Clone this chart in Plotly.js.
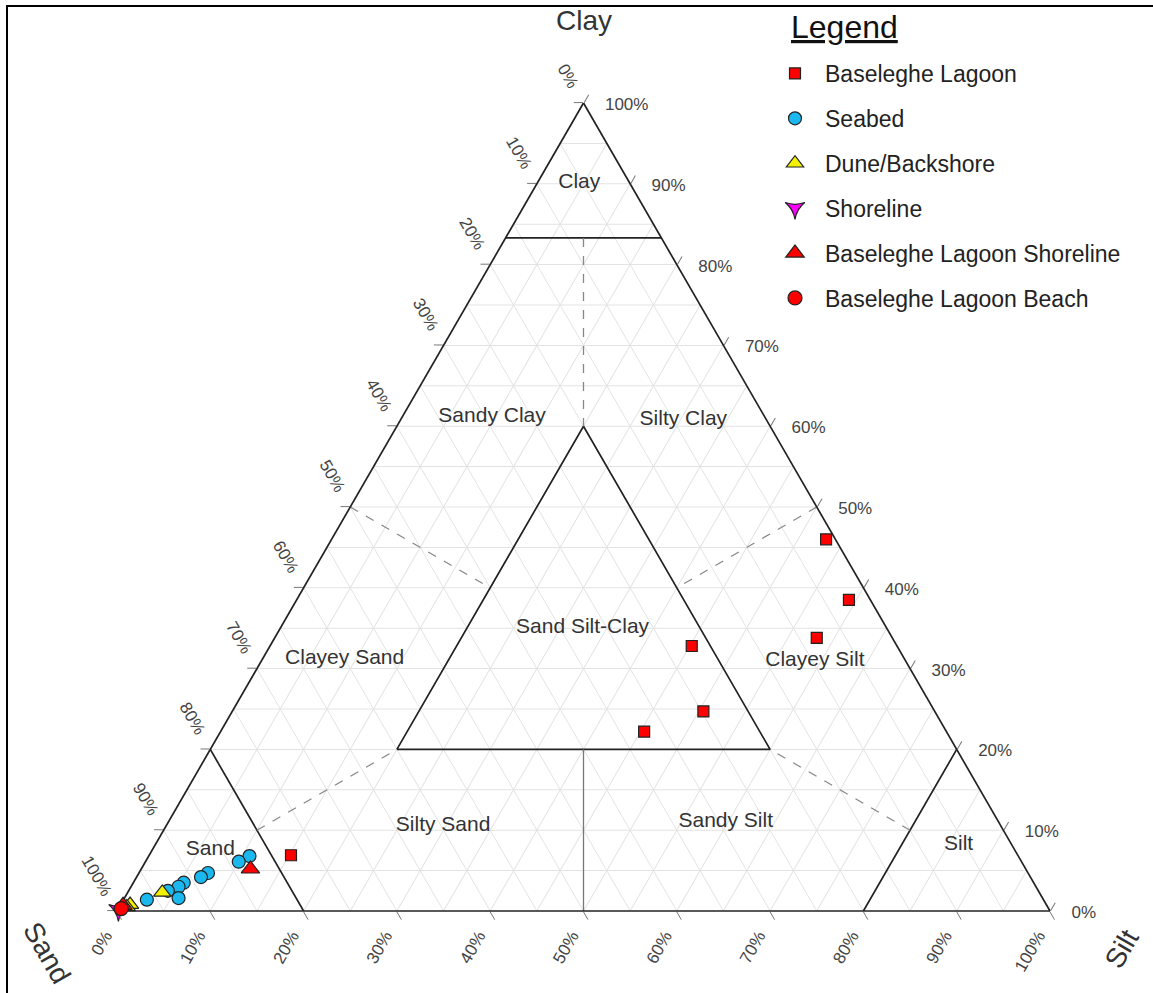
<!DOCTYPE html>
<html><head><meta charset="utf-8">
<script src="https://cdn.plot.ly/plotly-3.0.1.min.js"></script>
<style>
html,body{margin:0;padding:0;background:#fff;overflow:hidden}
#chart{position:absolute;left:0;top:0;width:1153px;height:993px}
#frame{position:absolute;left:6px;top:5px;width:1300px;height:1100px;border-top:2px solid #000;border-left:2px solid #000;pointer-events:none}
</style></head><body>
<div id="chart"></div><div id="frame"></div>
<script>
// ---- sample data (percent) ----
const lagoonSand = [1.0, 2.3, 8.1, 22.0, 24.8, 32.4, 77.9];
const lagoonSilt = [53.0, 59.2, 58.1, 45.2, 50.5, 45.4, 15.2];
const lagoonClay = [46.0, 38.5, 33.8, 32.8, 24.7, 22.2, 6.9];

const seabedSand = [82.4, 83.9, 87.9, 88.9, 91.1, 91.9, 93.3, 92.6, 96.1];
const seabedSilt = [10.8, 10.0, 7.4, 6.9, 5.4, 5.1, 4.2, 5.8, 2.5];
const seabedClay = [6.8, 6.1, 4.7, 4.2, 3.5, 3.0, 2.5, 1.6, 1.4];

const duneSand = [94.0, 98.2, 98.7];
const duneSilt = [3.7, 1.0, 0.8];
const duneClay = [2.3, 0.8, 0.5];

const shoreSand = [99.8];
const shoreSilt = [0.1];
const shoreClay = [0.1];

const lagShoreSand = [83.1, 99.0];
const lagShoreSilt = [11.7, 0.3];
const lagShoreClay = [5.2, 0.7];

const lagBeachSand = [99.4];
const lagBeachSilt = [0.3];
const lagBeachClay = [0.3];

// ---- classification boundaries (Sand, Silt, Clay) ----
const solidBoundaries = [
  {sand:[16.7, 0], silt:[0, 16.7], clay:[83.3, 83.3]},
  {sand:[60, 20, 20, 60], silt:[20, 60, 20, 20], clay:[20, 20, 60, 20]},
  {sand:[80, 80], silt:[0, 20], clay:[20, 0]},
  {sand:[20, 0], silt:[80, 80], clay:[0, 20]}
];
const dashedBoundaries = [
  {sand:[8.35, 20], silt:[8.35, 20], clay:[83.3, 60]},
  {sand:[50, 40], silt:[0, 20], clay:[50, 40]},
  {sand:[0, 20], silt:[50, 40], clay:[50, 40]},
  {sand:[80, 60], silt:[10, 20], clay:[10, 20]},
  {sand:[10, 20], silt:[80, 60], clay:[10, 20]}
];
const greyBoundaries = [
  {sand:[40, 50], silt:[40, 50], clay:[20, 0]}
];

// ---- region labels ----
const regionNames = ['Clay','Sandy Clay','Silty Clay','Sand Silt-Clay','Clayey Sand','Clayey Silt','Silty Sand','Sandy Silt','Sand','Silt'];
const regionSand = [5.4, 29.2, 8.9, 32.6, 60.0, 9.7, 59.8, 29.2, 86.2, 5.7];
const regionSilt = [4.5, 9.6, 30.3, 32.4, 8.8, 59.3, 29.7, 59.7, 6.2, 86.1];
const regionClay = [90.1, 61.2, 60.8, 35.0, 31.2, 31.0, 10.5, 11.1, 7.6, 8.2];

// ---- ticks ----
const tickValues = [0, 10, 20, 30, 40, 50, 60, 70, 80, 90, 100];
const tickLabels = ['100%','90%','80%','70%','60%','50%','40%','30%','20%','10%','0%'];

const fontFam = '"Liberation Sans", Arial, Helvetica, sans-serif';
const traces = [];

function addBoundary(list, color, width, dash) {
  list.forEach(seg => traces.push({
    type:'scatterternary', subplot:'ternary', mode:'lines',
    a: seg.clay, b: seg.sand, c: seg.silt,
    line:{color:color, width:width, dash:dash},
    hoverinfo:'skip', showlegend:false
  }));
}
addBoundary(solidBoundaries, '#222', 1.7, 'solid');
addBoundary(dashedBoundaries, '#888', 1.3, 'dash');
addBoundary(greyBoundaries, '#777', 1.3, 'solid');

traces.push({
  type:'scatterternary', subplot:'ternary', mode:'text',
  a: regionClay, b: regionSand, c: regionSilt, text: regionNames,
  textposition:'middle center',
  textfont:{family:fontFam, size:21, color:'#333'},
  hoverinfo:'skip', showlegend:false, cliponaxis:false
});

function addSeries(name, sand, silt, clay, symbol, color, size, grp) {
  traces.push({
    type:'scatterternary', subplot:'ternary2', mode:'markers', name:name,
    a: clay, b: sand, c: silt, legendgroup: grp,
    marker:{symbol:symbol, color:color, size:size, line:{color:'#222', width:1.2}},
    cliponaxis:false
  });
}
addSeries('Baseleghe Lagoon', lagoonSand, lagoonSilt, lagoonClay, 'square', '#ff0000', 11, 'g1');
addSeries('Seabed', seabedSand, seabedSilt, seabedClay, 'circle', '#1bb8f0', 13, 'g2');
addSeries('Dune/Backshore', duneSand, duneSilt, duneClay, 'triangle-up', '#f2f200', 15, 'g3');
addSeries('Shoreline', shoreSand, shoreSilt, shoreClay, 'star-triangle-down', '#ff00ff', 14, 'g4');
addSeries('Baseleghe Lagoon Shoreline', lagShoreSand, lagShoreSilt, lagShoreClay, 'triangle-up', '#ff0000', 16, 'g5');
addSeries('Baseleghe Lagoon Beach', lagBeachSand, lagBeachSilt, lagBeachClay, 'circle', '#ff0000', 14, 'g6');

// label-only ternaries (same triangle, tick labels nudged like the reference)
['ternary3','ternary4','ternary5'].forEach(sp => traces.push({
  type:'scatterternary', subplot:sp, mode:'none',
  a: lagoonClay, b: lagoonSand, c: lagoonSilt,
  hoverinfo:'skip', showlegend:false
}));

const W = 1153, H = 993;
function dom(dx, dy) {
  return {x:[(117 + dx)/W, (1050 + dx)/W], y:[(82 - dy)/H, (890 - dy)/H]};
}
const gridAxis = {min:0, tickmode:'linear', tick0:0, dtick:5, showgrid:true, gridcolor:'#e3e3e3', gridwidth:1,
  showline:false, ticks:'', showticklabels:false, title:{text:''}};
function tickAxis() {
  return {min:0, tickmode:'array', tickvals:tickValues, ticktext:tickLabels,
    ticks:'outside', ticklen:9, tickwidth:1, tickcolor:'#777',
    showgrid:false, showline:true, linecolor:'#222', linewidth:1.7,
    showticklabels:false, title:{text:''}, layer:'below traces'};
}
function labelAxis(show, angle) {
  return {min:0, tickmode:'array', tickvals:tickValues, ticktext:tickLabels,
    ticks:'outside', ticklen:9, tickwidth:1, tickcolor:'rgba(0,0,0,0)',
    showgrid:false, showline:false, showticklabels:show,
    tickangle:angle, tickfont:{family:fontFam, size:17, color:'#444'}, title:{text:''}};
}

const layout = {
  width:W, height:H,
  margin:{l:0, r:0, t:0, b:0},
  paper_bgcolor:'#fff',
  font:{family:fontFam, color:'#333'},
  showlegend:true,
  ternary:{sum:100, domain:dom(0,0), bgcolor:'#fff', aaxis:gridAxis, baxis:gridAxis, caxis:gridAxis},
  ternary2:{sum:100, domain:dom(0,0), bgcolor:'rgba(0,0,0,0)', aaxis:tickAxis(), baxis:tickAxis(), caxis:tickAxis()},
  // left edge labels (Sand %)
  ternary3:{sum:100, domain:dom(5,-13), bgcolor:'rgba(0,0,0,0)',
    aaxis:labelAxis(true, 60), baxis:labelAxis(false, 0), caxis:labelAxis(false, 0)},
  // bottom edge labels (Silt %)
  ternary4:{sum:100, domain:dom(-16,-1), bgcolor:'rgba(0,0,0,0)',
    aaxis:labelAxis(false, 0), baxis:labelAxis(true, -60), caxis:labelAxis(false, 0)},
  // right edge labels (Clay %)
  ternary5:{sum:100, domain:dom(14,11), bgcolor:'rgba(0,0,0,0)',
    aaxis:labelAxis(false, 0), baxis:labelAxis(false, 0), caxis:labelAxis(true, 0)},
  legend:{
    x:765/W, y:1-52/H, xanchor:'left', yanchor:'top',
    bgcolor:'rgba(0,0,0,0)', borderwidth:0,
    font:{family:fontFam, size:23, color:'#222'},
    tracegroupgap:12, itemwidth:50
  },
  annotations:[
    {text:'<u>Legend</u>', xref:'paper', yref:'paper', x:789/W, y:1-27/H, showarrow:false,
     font:{family:fontFam, size:32, color:'#111'}, xanchor:'left', yanchor:'middle'},
    {text:'Clay', xref:'paper', yref:'paper', x:584/W, y:1-20/H, showarrow:false,
     font:{family:fontFam, size:28, color:'#333'}, xanchor:'center', yanchor:'middle'},
    {text:'Sand', xref:'paper', yref:'paper', x:47/W, y:1-952/H, showarrow:false, textangle:60,
     font:{family:fontFam, size:28, color:'#333'}, xanchor:'center', yanchor:'middle'},
    {text:'Silt', xref:'paper', yref:'paper', x:1121/W, y:1-949/H, showarrow:false, textangle:-60,
     font:{family:fontFam, size:28, color:'#333'}, xanchor:'center', yanchor:'middle'}
  ]
};

Plotly.newPlot('chart', traces, layout, {displayModeBar:false, staticPlot:true});
</script></body></html>
